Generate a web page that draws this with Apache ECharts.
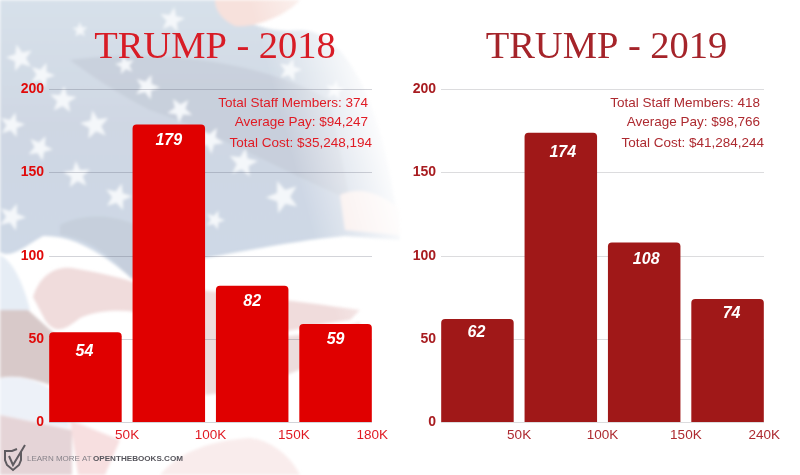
<!DOCTYPE html>
<html lang="en">

<head>
    <meta charset="UTF-8" />
    <title>Trump staff pay 2018 and 2019</title>
    <script src="https://cdn.jsdelivr.net/npm/echarts@6/dist/echarts.min.js"></script>
    <style>
        * {
            margin: 0;
            padding: 0;
        }

        body {
            background: #fff;
            overflow: hidden;
        }

        #flag {
            position: absolute;
            left: 0;
            top: 0;
        }

        #main {
            position: absolute;
            left: 0;
            top: 0;
            width: 800px;
            height: 475px;
        }
    </style>
</head>

<body>
    <!-- faded flag photo behind the left chart -->
    <svg id="flag" width="800" height="475" viewBox="0 0 800 475">
        <defs>
            <linearGradient id="fade" gradientUnits="userSpaceOnUse" x1="290" y1="150" x2="385" y2="124">
                <stop offset="0" stop-color="#fff" />
                <stop offset="1" stop-color="#000" />
            </linearGradient>
            <mask id="fadeMask" maskUnits="userSpaceOnUse" x="0" y="0" width="800" height="475">
                <rect width="800" height="475" fill="url(#fade)" />
            </mask>
            <filter id="soft" x="-5%" y="-5%" width="110%" height="110%">
                <feGaussianBlur stdDeviation="1.5" />
            </filter>
            <linearGradient id="field" x1="0" y1="0" x2="0" y2="1">
                <stop offset="0" stop-color="#d7e1ea" />
                <stop offset="0.45" stop-color="#cfd7e3" />
                <stop offset="1" stop-color="#cdd8e6" />
            </linearGradient>
        </defs>
        <g mask="url(#fadeMask)" filter="url(#soft)" id="flagShapes">
            <path fill="url(#field)" d="M0 0H215C225 15 265 35 300 30C340 30 385 90 400 240L345 236C300 240 250 250 205 258C180 262 150 272 132 279C100 250 70 235 43 236C20 250 10 258 0 252Z" />
            <path fill="#c5ccd8" opacity="0.7" d="M70 60C140 50 250 55 330 100L350 200C280 170 210 130 150 110C120 95 90 75 70 60Z" />
            <path fill="#c3ccd8" opacity="0.7" d="M60 225C90 210 130 215 160 240L132 279C105 250 85 238 60 235Z" />
            <path fill="#f7e1dc" d="M215 0H300C290 12 260 28 235 26C222 20 215 10 215 0Z" />
            <path fill="#f8ecea" d="M340 195C360 185 385 195 400 210V235L345 230Z" />
            <path fill="#e6edf5" d="M0 255C15 262 25 290 30 310L0 312Z" />
            <path fill="#f0dcdc" d="M33 297C40 275 55 266 72 268C95 272 115 276 133 282C200 290 290 300 360 310L350 320C300 325 260 345 200 330C150 310 110 305 80 318C65 330 55 335 45 320Z" />
            <path fill="#d8c9c9" d="M0 310H28C45 325 65 345 75 345L50 385C30 378 15 375 0 378Z" />
            <path fill="#edf1f8" d="M0 378C20 375 40 380 60 395L70 428L0 415Z" />
            <path fill="#ecdcdc" d="M200 322C230 345 300 340 360 322L360 345C310 365 260 390 205 395Z" />
            <path fill="#e5d4d7" d="M0 415C25 420 50 425 72 430V475H0Z" />
            <path fill="#f7dfe0" d="M70 420L120 440L105 475H78Z" />
            <path fill="#f9ecec" d="M160 475C180 450 215 440 250 438C270 440 290 455 300 475Z" />
        </g>
    </svg>
    <div id="main"></div>

    <script>
        // histogram counts per pay band
        const payBands = ["under 50K", "50K-100K", "100K-150K", "over 150K"];
        const staff2018 = [54, 179, 82, 59];
        const staff2019 = [62, 174, 108, 74];

        const edgeLabels2018 = ["50K", "100K", "150K", "180K"];
        const edgeLabels2019 = ["50K", "100K", "150K", "240K"];
        const yTicks = [0, 50, 100, 150, 200];

        const info2018 = ["Total Staff Members: 374", "Average Pay: $94,247", "Total Cost: $35,248,194"];
        const info2019 = ["Total Staff Members: 418", "Average Pay: $98,766", "Total Cost: $41,284,244"];

        const FONT = "Liberation Sans";

        // stars of the flag, x y radius turn
        const stars = [
            [172, 20, 13, 10], [20, 58, 14, -15], [42, 75, 13, 20], [63, 100, 14, 5], [95, 125, 15, -10],
            [12, 125, 13, 15], [40, 148, 13, 25], [77, 175, 14, -5], [118, 197, 14, 15], [12, 217, 14, 20],
            [210, 140, 14, 30], [243, 163, 15, 10], [283, 197, 17, -20], [180, 110, 13, 40], [147, 87, 13, 20],
            [125, 65, 10, 60], [290, 70, 12, 15], [335, 90, 10, 10], [215, 220, 10, 20], [80, 30, 8, 70]
        ];
        function starPoints(cx, cy, r, turn) {
            let pts = [];
            for (let i = 0; i < 10; i++) {
                let rr = i % 2 ? r * 0.42 : r;
                let a = ((turn + i * 36 - 90) * Math.PI) / 180;
                pts.push((cx + rr * Math.cos(a)).toFixed(1) + "," + (cy + rr * Math.sin(a)).toFixed(1));
            }
            return pts.join(" ");
        }
        let starHtml = "";
        stars.forEach((s) => {
            starHtml += `<polygon fill="#f4f7fa" points="${starPoints(s[0], s[1], s[2], s[3])}" />`;
        });
        document.getElementById("flagShapes").insertAdjacentHTML("beforeend", starHtml);

        const myChart = echarts.init(document.getElementById("main"));

        const panels = [
            { left: 49, titleX: 210, title: "TRUMP - 2018", values: staff2018, edges: edgeLabels2018, info: info2018,
              labelNudge: [[-1, 4], [0, 1], [0, 1], [0, 1]],
              barColor: "#e00000", titleColor: "#d81c26", textColor: "#e01b24", yColor: "#e00a0a", lineColor: "rgba(80,85,105,0.25)" },
            { left: 441, titleX: 601.5, title: "TRUMP - 2019", values: staff2019, edges: edgeLabels2019, info: info2019,
              labelNudge: [[-1, -1], [2, 5], [2, 2], [4, 0]],
              barColor: "#a01818", titleColor: "#a5242a", textColor: "#ad2a30", yColor: "#a81c20", lineColor: "#dcdcde" }
        ];

        const PLOT_W = 323;
        const EDGE = 5.25; // bars overhang the gridlines' band by half a gap
        const EDGE_TICKS = [1, 2, 3, 3.94];
        const grids = [], xAxes = [], yAxes = [], series = [], titles = [], graphics = [];

        panels.forEach((p) => {
            // grid for the gridlines and y labels
            const guide = grids.length;
            grids.push({ left: p.left, top: 89.5, width: PLOT_W, height: 332.5 });
            xAxes.push({ gridIndex: guide, type: "value", min: 0, max: 1, show: false });
            yAxes.push({
                gridIndex: guide, type: "value", min: yTicks[0], max: yTicks[yTicks.length - 1], interval: yTicks[1] - yTicks[0],
                axisLine: { show: false }, axisTick: { show: false },
                axisLabel: { color: p.yColor, fontFamily: FONT, fontWeight: "bold", fontSize: 14, margin: 5, padding: [2, 0, 0, 0] },
                splitLine: { lineStyle: { color: p.lineColor, width: 1.2 } }
            });

            // grid for the bars, a little wider so the outer bars meet the line ends
            const bars = grids.length;
            grids.push({ left: p.left - EDGE, top: 89.5, width: PLOT_W + EDGE * 2, height: 332.5 });
            const catAxis = xAxes.length;
            xAxes.push({ gridIndex: bars, type: "category", data: payBands, show: false });
            const edgeLabels = p.edges;
            xAxes.push({
                gridIndex: bars, type: "value", min: 0, max: 4, position: "bottom",
                axisLine: { show: false }, axisTick: { show: false }, splitLine: { show: false },
                axisLabel: {
                    customValues: EDGE_TICKS,
                    color: p.textColor, fontFamily: FONT, fontSize: 13.5, margin: 6,
                    formatter: (v) => edgeLabels[EDGE_TICKS.indexOf(v)]
                }
            });
            const valAxis = yAxes.length;
            yAxes.push({ gridIndex: bars, type: "value", min: 0, max: 200, show: false });

            series.push({
                type: "bar", xAxisIndex: catAxis, yAxisIndex: valAxis, z: 5,
                data: p.values.map((v, i) => ({ value: v, label: { offset: p.labelNudge[i] } })),
                barWidth: 72.5,
                itemStyle: { color: p.barColor, borderRadius: [4, 4, 0, 0] },
                label: {
                    show: true, position: "insideTop", distance: 7,
                    color: "#fff", fontFamily: FONT, fontStyle: "italic", fontWeight: "bold", fontSize: 16
                },
                animation: false
            });

            titles.push({
                text: p.title, left: p.titleX, top: 23, textAlign: "center",
                textStyle: { color: p.titleColor, fontFamily: "Liberation Serif", fontWeight: "normal", fontSize: 38.5 }
            });

            // three info lines at the top right of each plot
            const right = p.left + PLOT_W;
            [[103, 4], [122, 4], [143, 0]].forEach((pos, i) => {
                graphics.push({
                    type: "text", x: right - pos[1], y: pos[0], z: 10,
                    style: {
                        text: p.info[i], fill: p.textColor, font: "13.5px '" + FONT + "'",
                        textAlign: "right", textVerticalAlign: "middle"
                    }
                });
            });
        });

        // open the books mark at the bottom left
        graphics.push(
            { type: "polyline", z: 10,
              shape: { points: [[17, 449], [12, 451], [5, 451], [5, 460], [7, 465], [13, 470], [19, 465], [21, 460], [21, 452]] },
              style: { fill: null, stroke: "#5f5b60", lineWidth: 2 } },
            { type: "polyline", z: 10,
              shape: { points: [[9, 456], [13, 465], [25, 445]] },
              style: { fill: null, stroke: "#5f5b60", lineWidth: 2 } },
            { type: "text", x: 27, y: 459, z: 10,
              style: { text: "LEARN MORE AT", fill: "#87838a", font: "8px '" + FONT + "'", textVerticalAlign: "middle" } },
            { type: "text", x: 93, y: 459, z: 10,
              style: { text: "OPENTHEBOOKS.COM", fill: "#56555c", font: "bold 8.1px '" + FONT + "'", textVerticalAlign: "middle" } }
        );

        const option = {
            backgroundColor: "transparent",
            animation: false,
            title: titles,
            grid: grids,
            xAxis: xAxes,
            yAxis: yAxes,
            series: series,
            graphic: graphics
        };
        myChart.setOption(option);
    </script>
</body>

</html>
